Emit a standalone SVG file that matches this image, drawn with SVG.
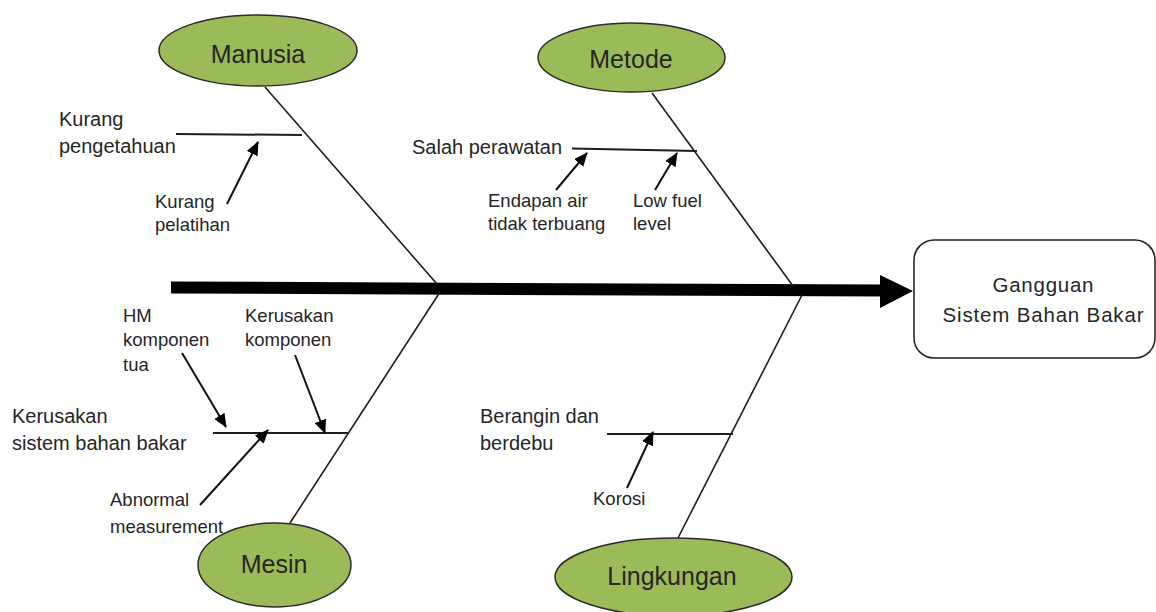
<svg xmlns="http://www.w3.org/2000/svg" width="1156" height="612" viewBox="0 0 1156 612">
<style>
text{font-family:"Liberation Sans",Arial,sans-serif;fill:#262626}
.big{font-size:25px;text-anchor:middle}
.mid{font-size:20px}
.sm{font-size:18.5px}
.box{font-size:20.5px;text-anchor:middle}
.cat{fill:#9BBB59;stroke:#2b2b2b;stroke-width:1.5}
.bone{stroke:#1e1e1e;stroke-width:1.6;fill:none}
.sub{stroke:#1e1e1e;stroke-width:2;fill:none}
.arr{stroke:#111;stroke-width:2;fill:none;marker-end:url(#ah)}
</style>
<defs>
<marker id="ah" viewBox="0 0 14 12" refX="13" refY="6" markerWidth="14" markerHeight="12" markerUnits="userSpaceOnUse" orient="auto">
<path d="M0,0 L14,6 L0,12 z" fill="#000"/>
</marker>
</defs>
<rect width="1156" height="612" fill="#fff"/>
<g id="connectors">
<line x1="171" y1="287.5" x2="882" y2="290.5" stroke="#000" stroke-width="12"/>
<polygon points="880,275 913,291 880,308" fill="#000"/>
<line class="bone" x1="265" y1="87" x2="437" y2="284"/>
<line class="bone" x1="652" y1="93" x2="793" y2="286"/>
<line class="bone" x1="440" y1="292" x2="290" y2="523"/>
<line class="bone" x1="802" y1="295" x2="678" y2="538"/>
<line class="sub" x1="176" y1="134" x2="302" y2="135"/>
<line class="sub" x1="572" y1="148.5" x2="697" y2="151"/>
<line class="sub" x1="213" y1="433" x2="348" y2="433"/>
<line class="sub" x1="607" y1="434" x2="733" y2="434"/>
<line class="arr" x1="227" y1="204" x2="258" y2="142"/>
<line class="arr" x1="556" y1="190" x2="587" y2="153"/>
<line class="arr" x1="655" y1="190" x2="677" y2="153"/>
<line class="arr" x1="182" y1="353" x2="226" y2="427"/>
<line class="arr" x1="295" y1="355" x2="325" y2="433"/>
<line class="arr" x1="200" y1="505" x2="268" y2="430"/>
<line class="arr" x1="627" y1="488" x2="653" y2="432"/>
</g>
<g id="manusia">
<ellipse class="cat" cx="258" cy="50.5" rx="99" ry="35.5"/>
<text class="big" x="258" y="63">Manusia</text>
</g>
<g id="metode">
<ellipse class="cat" cx="631.5" cy="57.5" rx="93.5" ry="34.5"/>
<text class="big" x="631" y="68">Metode</text>
</g>
<g id="mesin">
<ellipse class="cat" cx="274.5" cy="565" rx="76.5" ry="42"/>
<text class="big" x="274" y="573">Mesin</text>
</g>
<g id="lingkungan">
<ellipse class="cat" cx="673.5" cy="577" rx="118.5" ry="39"/>
<text class="big" x="672" y="585">Lingkungan</text>
</g>
<g id="effect">
<rect x="914" y="240" width="241" height="118" rx="20" fill="#fff" stroke="#1e1e1e" stroke-width="1.5"/>
<text class="box" x="1043" y="292" textLength="101" lengthAdjust="spacing">Gangguan</text>
<text class="box" x="1043" y="322" textLength="201" lengthAdjust="spacing">Sistem Bahan Bakar</text>
</g>
<g id="kurang-pengetahuan">
<text class="mid" x="59" y="126">Kurang</text>
<text class="mid" x="59" y="153">pengetahuan</text>
</g>
<g id="kurang-pelatihan">
<text class="sm" x="155" y="208">Kurang</text>
<text class="sm" x="155" y="231">pelatihan</text>
</g>
<g id="salah-perawatan">
<text class="mid" x="412" y="154">Salah perawatan</text>
</g>
<g id="endapan-air">
<text class="sm" x="488" y="207">Endapan air</text>
<text class="sm" x="488" y="230">tidak terbuang</text>
</g>
<g id="low-fuel">
<text class="sm" x="633" y="207">Low fuel</text>
<text class="sm" x="633" y="230">level</text>
</g>
<g id="hm-komponen">
<text class="sm" x="123" y="322">HM</text>
<text class="sm" x="123" y="346">komponen</text>
<text class="sm" x="123" y="371">tua</text>
</g>
<g id="kerusakan-komponen">
<text class="sm" x="245" y="322">Kerusakan</text>
<text class="sm" x="245" y="346">komponen</text>
</g>
<g id="kerusakan-sistem">
<text class="mid" x="12" y="423">Kerusakan</text>
<text class="mid" x="12" y="450">sistem bahan bakar</text>
</g>
<g id="abnormal">
<text class="sm" x="110" y="506">Abnormal</text>
<text class="sm" x="110" y="533">measurement</text>
</g>
<g id="berangin">
<text class="mid" x="480" y="423">Berangin dan</text>
<text class="mid" x="480" y="450">berdebu</text>
</g>
<g id="korosi">
<text class="sm" x="593" y="505">Korosi</text>
</g>
</svg>
